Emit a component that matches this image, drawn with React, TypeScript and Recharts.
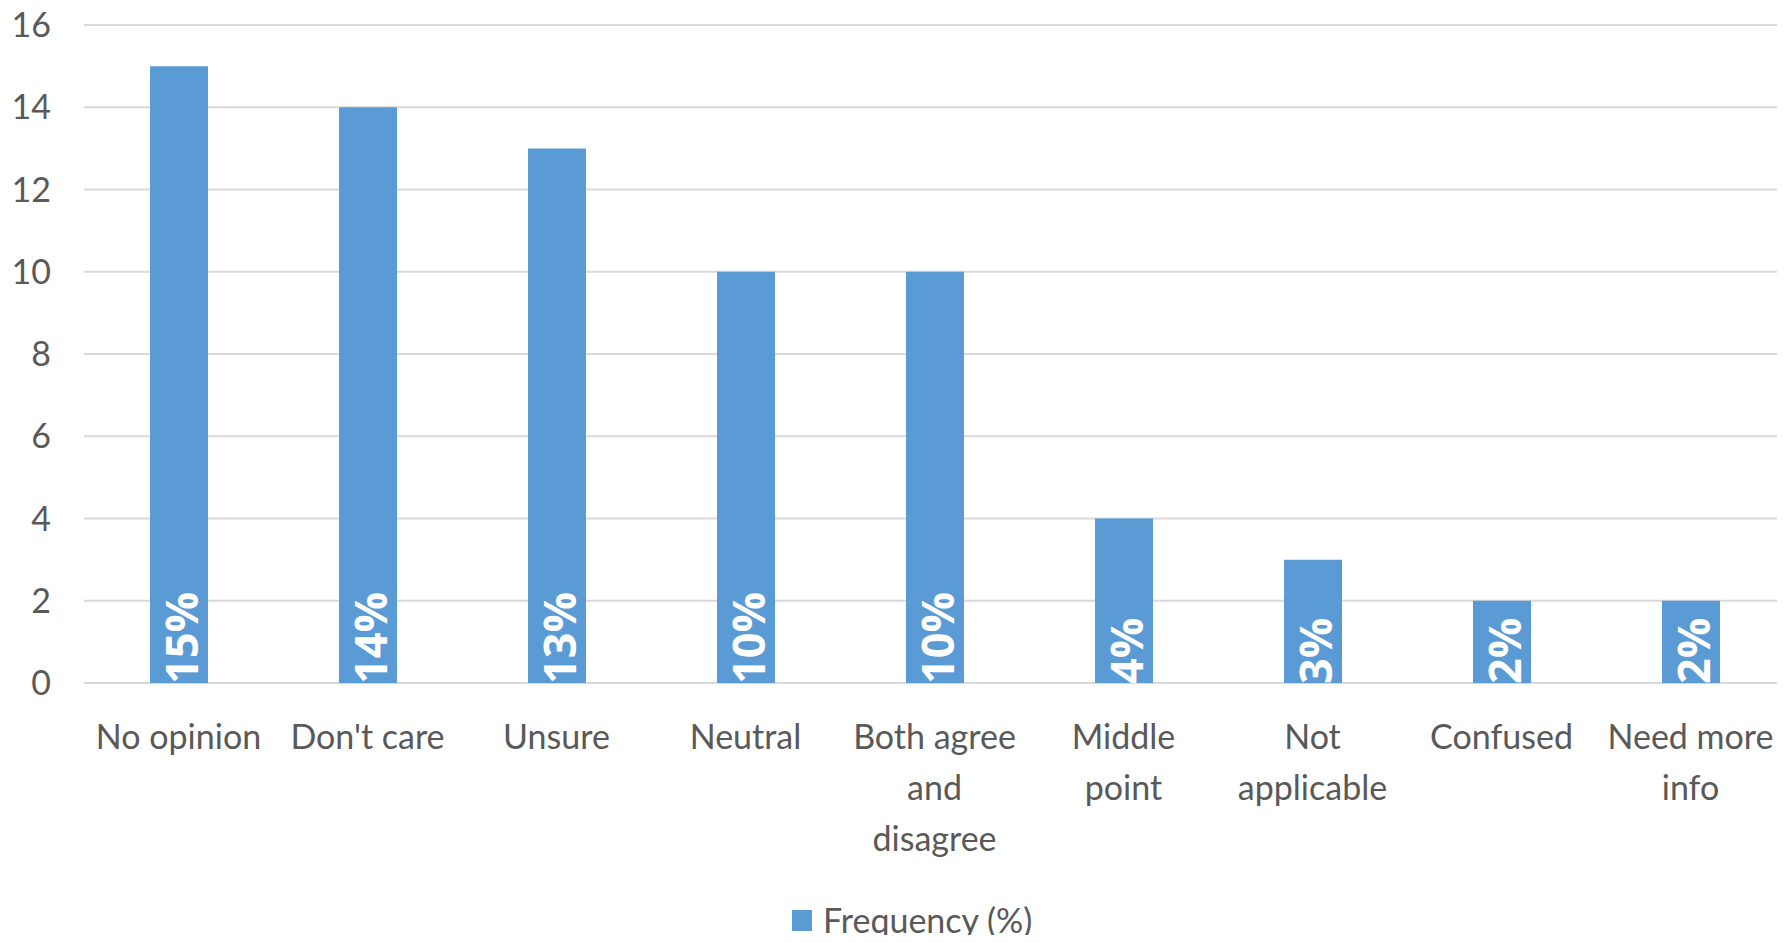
import { Bar, BarChart, CartesianGrid, LabelList, Legend, XAxis, YAxis } from "recharts";

const categories = [
  "No opinion",
  "Don't care",
  "Unsure",
  "Neutral",
  "Both agree\nand\ndisagree",
  "Middle\npoint",
  "Not\napplicable",
  "Confused",
  "Need more\ninfo"
];
const frequency = [15, 14, 13, 10, 10, 4, 3, 2, 2];
const yTicks = [0, 2, 4, 6, 8, 10, 12, 14, 16];
const seriesName = "Frequency (%)";

const BLUE = "#5b9bd5";
const GREY_TEXT = "#595959";
const GRID = "#d9d9d9";

const rows = categories.map((name, i) => ({ name, value: frequency[i] }));

const CategoryTick = ({ x, y, payload }: any) => {
  const lines = String(payload.value).split("\n");
  return (
    <text x={x} y={y + 58} textAnchor="middle" fill={GREY_TEXT} fontSize={34}>
      {lines.map((line, i) => (
        <tspan key={i} x={x} dy={i === 0 ? 0 : 51}>
          {line}
        </tspan>
      ))}
    </text>
  );
};

// value label written upward from the bottom of each bar, clipped to the bar
const BarValue = ({ x, y, width, height, value, index }: any) => {
  const cx = x + width / 2 + 1;
  const base = y + height + 1;
  const clipId = `bar-clip-${index}`;
  return (
    <g>
      <clipPath id={clipId}>
        <rect x={x} y={y} width={width} height={height} />
      </clipPath>
      <g clipPath={`url(#${clipId})`}>
        <text
          x={cx}
          y={base}
          transform={`rotate(-90, ${cx}, ${base})`}
          textAnchor="start"
          dominantBaseline="central"
          fill="#ffffff"
          fontFamily="'Open Sans', sans-serif"
          fontWeight={700}
          fontSize={45}
        >
          {`${value}%`}
        </text>
      </g>
    </g>
  );
};

const LegendBox = () => (
  <div style={{ display: "flex", alignItems: "center", fontSize: 34, lineHeight: "40px", color: GREY_TEXT }}>
    <span style={{ width: 20, height: 21, background: BLUE, marginRight: 11 }} />
    <span>{seriesName}</span>
  </div>
);

const App = () => (
  <div style={{ margin: -8, fontFamily: "Lato, sans-serif", background: "#fff", width: 1785, height: 943 }}>
    <BarChart
      width={1785}
      height={943}
      data={rows}
      margin={{ top: 25, right: 0, bottom: 0, left: 0 }}
      barCategoryGap={0}
    >
      <CartesianGrid vertical={false} stroke={GRID} strokeWidth={2} />
      <XAxis
        dataKey="name"
        interval={0}
        height={260}
        axisLine={false}
        tickLine={false}
        tick={<CategoryTick />}
      />
      <YAxis
        width={84}
        domain={[0, 16]}
        ticks={yTicks}
        axisLine={false}
        tickLine={false}
        tickMargin={27}
        tick={{ fill: GREY_TEXT, fontSize: 34 }}
      />
      <Legend
        verticalAlign="middle"
        align="center"
        layout="horizontal"
        content={<LegendBox />}
        wrapperStyle={{ top: 900, left: 792, width: 320, height: 40 }}
      />
      <Bar dataKey="value" name={seriesName} fill={BLUE} barSize={58} isAnimationActive={false}>
        <LabelList dataKey="value" content={<BarValue />} />
      </Bar>
    </BarChart>
  </div>
);

export default App;
